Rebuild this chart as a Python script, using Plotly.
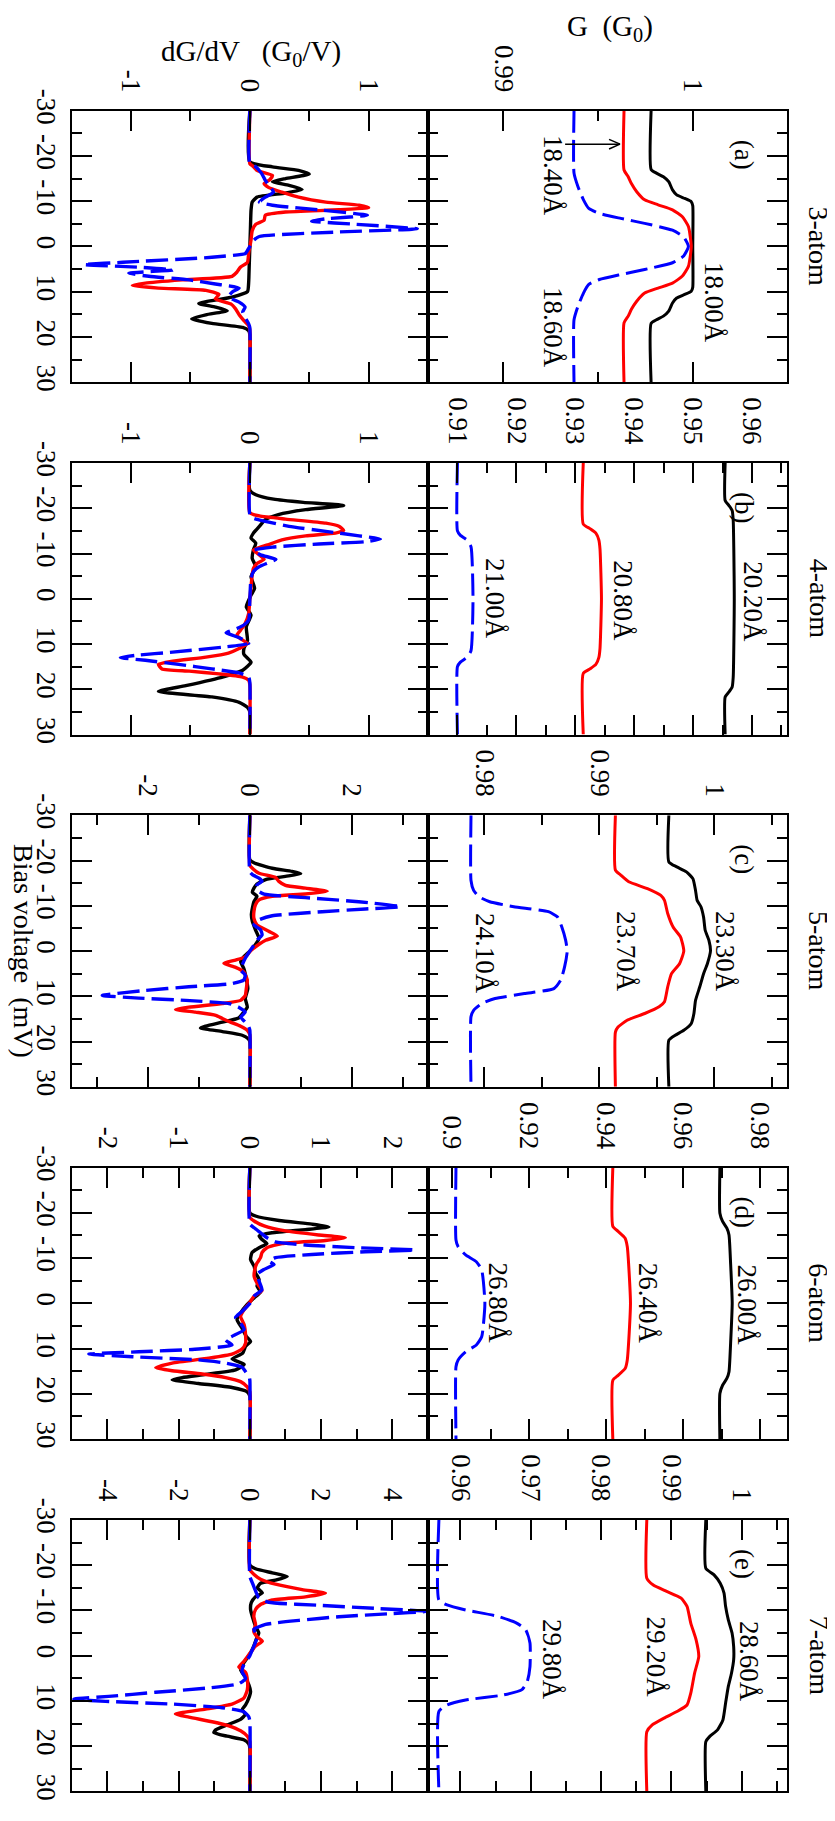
import plotly.graph_objects as go
import numpy as np

# ================= DATA =================
V_TICKS = [-30, -20, -10, 0, 10, 20, 30]
V_TICKTEXT = ["-30", "-20", "-10", "0", "10", "20", "30"]
ROW_TITLES = ["3-atom", "4-atom", "5-atom", "6-atom", "7-atom"]
PANEL_LETTERS = ["(a)", "(b)", "(c)", "(d)", "(e)"]

# ---------- Row 1 : 3-atom, G(V) ----------
V_G1_K = [-30, -17, -16.2, -15.4, -14.3, -12.5, -11.4, -10.6, -9.9, -9, 0, 9, 9.9, 10.6, 11.4, 12.5, 14.3, 15.4, 16.2, 17, 30]
G1_K = [0.9978, 0.9978, 0.99808, 0.99845, 0.99873, 0.99893, 0.99915, 0.99958, 0.99992, 1.0, 1.0, 1.0, 0.99992, 0.99958, 0.99915, 0.99893, 0.99873, 0.99845, 0.99808, 0.9978, 0.9978]
V_G1_R = [-30, -16.9, -15.4, -13.9, -12.1, -10.3, -9.2, -8.1, -6.6, -4.4, 0, 4.4, 6.6, 8.1, 9.2, 10.3, 12.1, 13.9, 15.4, 16.9, 30]
G1_R = [0.99637, 0.99637, 0.99659, 0.99676, 0.99704, 0.99746, 0.99817, 0.99893, 0.99944, 0.99977, 0.99992, 0.99977, 0.99944, 0.99893, 0.99817, 0.99746, 0.99704, 0.99676, 0.99659, 0.99637, 0.99637]
V_G1_B = [-30, -16.2, -13.2, -10.3, -8.4, -7.3, -6.2, -5.1, -3.6, -2.1, 0, 2.1, 3.6, 5.1, 6.2, 7.3, 8.4, 10.3, 13.2, 16.2, 30]
G1_B = [0.99373, 0.99373, 0.99394, 0.99423, 0.99451, 0.99507, 0.9962, 0.99746, 0.99893, 0.99952, 0.99977, 0.99952, 0.99893, 0.99746, 0.9962, 0.99507, 0.99451, 0.99423, 0.99394, 0.99373, 0.99373]

# ---------- Row 1 : 3-atom, dG/dV ----------
V_D1_K = [-30, -18.7, -17.6, -16.8, -16, -15, -14.3, -13.5, -12.6, -11.8, -10.9, -9.8, -8, -4, 0, 4, 8, 10, 11.2, 12.6, 13.4, 14.2, 15.1, 16, 17, 17.9, 18.6, 19.5, 30]
D1_K = [0, 0, 0.19, 0.41, 0.50, 0.30, 0.19, 0.33, 0.44, 0.30, 0.06, 0.02, 0.01, 0.005, 0, -0.005, -0.01, -0.02, -0.15, -0.43, -0.29, -0.19, -0.37, -0.49, -0.32, -0.06, -0.01, 0, 0]
V_D1_R = [-30, -18.3, -17.9, -16.8, -15.7, -14.8, -13.9, -13, -12, -10.9, -9.8, -9.1, -8.6, -8.1, -7.6, -6.9, -5.8, -4.9, -3.5, -1.5, 0, 1.5, 3.5, 4.6, 5.7, 6.6, 7.4, 8.1, 8.6, 9.2, 9.7, 10.6, 11.6, 12.7, 13.8, 15.1, 16.4, 17.5, 18.5, 30]
D1_R = [0, 0, 0.02, 0.06, 0.19, 0.17, 0.12, 0.16, 0.27, 0.41, 0.64, 0.92, 1.0, 0.75, 0.30, 0.13, 0.12, 0.05, 0.02, 0.01, 0, -0.01, -0.02, -0.08, -0.11, -0.15, -0.57, -0.88, -0.99, -0.77, -0.37, -0.26, -0.29, -0.16, -0.12, -0.09, -0.05, -0.01, 0, 0]
V_D1_B = [-30, -18.3, -17.6, -16.1, -14.6, -13.5, -12, -10.9, -9.8, -9.1, -8, -6.9, -6.1, -5.6, -4.9, -3.9, -3.2, -2.2, -1.3, 0, 1.3, 1.6, 2.4, 3.5, 4, 4.6, 5.2, 5.9, 6.6, 7.4, 8.3, 9.2, 10.1, 11.2, 12.3, 13.4, 14.5, 15.7, 17.1, 18, 30]
D1_B = [0, 0, 0.05, 0.10, 0.13, 0.16, 0.20, 0.13, 0.08, 0.19, 0.61, 0.99, 0.64, 0.52, 0.89, 1.41, 0.75, 0.08, 0.03, 0, -0.03, -0.04, -0.32, -1.07, -1.40, -0.93, -0.65, -1.02, -0.85, -0.51, -0.29, -0.09, -0.15, -0.18, -0.09, -0.04, -0.06, -0.04, -0.01, 0, 0]

# ---------- Row 2 : 4-atom, G(V) ----------
V_G2_K = [-30, -21.7, -20.6, -19.5, -17.3, 0, 17.3, 19.5, 20.6, 21.7, 30]
G2_K = [0.95545, 0.95545, 0.95609, 0.95664, 0.95682, 0.957, 0.95682, 0.95664, 0.95609, 0.95545, 0.95545]
V_G2_R = [-30, -16.5, -15.5, -14.5, -13, -11, 0, 11, 13, 14.5, 15.5, 16.5, 30]
G2_R = [0.93136, 0.93136, 0.9325, 0.9335, 0.9340, 0.9342, 0.93445, 0.9342, 0.9340, 0.9335, 0.9325, 0.93136, 0.93136]
V_G2_B = [-30, -15, -14, -13, -11.5, 0, 11.5, 13, 14, 15, 30]
G2_B = [0.9100, 0.9100, 0.9105, 0.9116, 0.9123, 0.91264, 0.9123, 0.9116, 0.9105, 0.9100, 0.9100]

# ---------- Row 2 : 4-atom, dG/dV ----------
V_D2_K = [-30, -24, -23, -22, -21.3, -20.6, -19.7, -18.6, -17.5, -16, -14.5, -13.4, -12.3, -10.8, -8.9, -7.1, -4.9, -2.3, -0.8, 1.8, 3.6, 6.2, 9.2, 11, 12.3, 14, 15.8, 17.3, 19.2, 20.5, 21.7, 22.9, 24, 25, 30]
D2_K = [0, 0, 0.05, 0.2, 0.45, 0.79, 0.47, 0.24, 0.13, 0.08, 0.03, 0.01, 0.05, 0.03, 0.02, 0.05, 0.01, 0.04, 0.01, -0.03, 0.01, -0.03, -0.02, -0.05, -0.05, 0.01, -0.06, -0.23, -0.54, -0.77, -0.32, -0.09, -0.02, 0, 0]
V_D2_R = [-30, -19, -18.3, -17.6, -16.7, -16, -15.1, -14.5, -13.9, -13, -11.9, -10.8, -9.7, -8.7, -7.8, -6.7, -5.3, -2.7, 0, 3.3, 5.5, 7, 8.1, 8.8, 9.9, 11, 12, 12.9, 13.8, 14.5, 15.5, 16, 16.6, 17.3, 18, 19, 30]
D2_R = [0, 0, 0.08, 0.30, 0.64, 0.75, 0.79, 0.72, 0.47, 0.27, 0.15, 0.03, 0.08, 0.12, 0.06, 0.03, 0.02, 0.01, 0, -0.01, -0.04, -0.08, -0.11, -0.08, -0.02, -0.09, -0.18, -0.37, -0.65, -0.77, -0.74, -0.51, -0.26, -0.06, -0.01, 0, 0]
V_D2_B = [-30, -18.6, -17.8, -17.1, -16, -14.9, -13.9, -13.2, -12.6, -12.1, -11.4, -10.7, -9.7, -8.7, -8, -7.1, -6, -4.5, 0, 4.7, 5.8, 6.6, 7.5, 8.3, 9.2, 9.9, 10.7, 11.8, 12.5, 13, 13.6, 14.5, 15.5, 16.4, 17.3, 18.5, 30]
D2_B = [0, 0, 0.03, 0.13, 0.33, 0.64, 0.92, 1.10, 0.97, 0.58, 0.19, 0.03, 0.09, 0.22, 0.16, 0.08, 0.03, 0.01, 0, -0.01, -0.05, -0.11, -0.20, -0.12, -0.04, -0.01, -0.23, -0.65, -0.96, -1.09, -0.88, -0.60, -0.32, -0.09, -0.01, 0, 0]

# ---------- Row 3 : 5-atom, G(V) ----------
V_G3_K = [-30, -19.7, -18.6, -17.5, -16, -13.4, -11.2, -9.8, -7.5, -4.6, -2.4, 0, 2.8, 5, 7.9, 10.9, 13.8, 16, 17.5, 18.6, 19.7, 30]
G3_K = [0.99605, 0.99605, 0.99674, 0.99758, 0.99814, 0.99837, 0.99851, 0.99884, 0.99907, 0.99921, 0.99953, 0.99967, 0.9994, 0.99907, 0.99874, 0.99837, 0.99823, 0.998, 0.99735, 0.9966, 0.99605, 0.99605]
V_G3_R = [-30, -17.9, -16.8, -15.3, -13.8, -12.3, -11.2, -8.3, -5.3, -3.1, 0, 2.8, 5, 7.9, 11.2, 12.3, 13.8, 15.3, 16.8, 17.9, 30]
G3_R = [0.9914, 0.9914, 0.99186, 0.99256, 0.99419, 0.99535, 0.99567, 0.99595, 0.99642, 0.99707, 0.99735, 0.99698, 0.99628, 0.99595, 0.99567, 0.9952, 0.99395, 0.99242, 0.99163, 0.9914, 0.9914]
V_G3_B = [-30, -15.6, -13.4, -12, -10.9, -9.8, -8.7, -7.5, -5.3, -2.4, 0, 3.5, 6.4, 8.3, 9.4, 10.5, 11.6, 13.1, 14.5, 30]
G3_B = [0.97884, 0.97884, 0.97907, 0.97953, 0.98047, 0.98256, 0.98558, 0.98637, 0.98674, 0.98707, 0.98721, 0.98698, 0.98665, 0.98605, 0.98349, 0.98093, 0.97977, 0.97907, 0.97884, 0.97884]

# ---------- Row 3 : 5-atom, dG/dV ----------
V_D3_K = [-30, -20.2, -19.5, -18.3, -17.6, -17.1, -16.5, -15.8, -14.8, -13.9, -13, -12.1, -10.9, -9.5, -8, -6.5, -4.7, -2.8, -1.3, 0, 1.3, 2.4, 3.8, 6.1, 8.3, 10.5, 12.4, 13.5, 14.8, 15.7, 16.6, 17, 17.8, 18.6, 19.4, 20, 30]
D3_K = [0, 0, 0.08, 0.44, 0.83, 1.0, 0.70, 0.31, 0.14, 0.08, 0.05, 0.14, 0.08, 0.05, 0.03, 0.05, 0.11, 0.18, 0.10, 0, -0.12, -0.18, -0.12, -0.07, -0.04, -0.09, -0.05, -0.12, -0.22, -0.54, -0.87, -0.97, -0.54, -0.15, -0.03, 0, 0]
V_D3_R = [-30, -19, -18.3, -17.2, -16.3, -15.4, -14.5, -13.9, -13.2, -12.6, -12.1, -11.3, -10.2, -8.7, -7.2, -5.8, -4.4, -3.3, -2.4, -1.5, 0, 1.3, 2, 2.7, 3.6, 4.6, 6.4, 8.3, 9.8, 10.9, 11.6, 12.4, 12.9, 13.5, 14.2, 14.9, 15.7, 16.6, 17.5, 18.5, 30]
D3_R = [0, 0, 0.05, 0.18, 0.50, 0.57, 0.70, 1.09, 1.52, 1.09, 0.44, 0.18, 0.11, 0.08, 0.08, 0.14, 0.37, 0.54, 0.31, 0.18, 0.01, -0.09, -0.28, -0.51, -0.28, -0.12, -0.05, -0.07, -0.09, -0.18, -0.54, -1.20, -1.46, -1.07, -0.67, -0.54, -0.38, -0.18, -0.05, 0, 0]
V_D3_B = [-30, -17.5, -16.9, -16.1, -15.4, -14.6, -13.5, -12.6, -11.8, -10.9, -9.8, -9.3, -8.7, -7.8, -6.9, -5.8, -4.7, -3.6, -2.4, -1.3, 0, 1.6, 3.1, 4.2, 5.3, 6.4, 7.2, 7.9, 8.7, 9.8, 10.4, 10.9, 11.6, 12.4, 13.5, 14.6, 15.7, 16.8, 17.5, 30]
D3_B = [0, 0, 0.05, 0.18, 0.24, 0.14, 0.14, 0.28, 1.09, 2.14, 2.96, 2.27, 1.42, 0.44, 0.18, 0.08, 0.21, 0.24, 0.14, 0.08, 0, -0.09, -0.15, -0.18, -0.09, -0.12, -0.35, -1.20, -2.05, -2.90, -2.18, -1.26, -0.41, -0.22, -0.09, -0.18, -0.09, -0.02, 0, 0]

# ---------- Row 4 : 6-atom, G(V) ----------
V_G4_K = [-30, -19.9, -18.1, -16.6, -15.1, -8.9, 0, 8.9, 15.1, 16.6, 18.1, 19.9, 30]
G4_K = [0.96954, 0.96954, 0.97024, 0.97135, 0.97191, 0.97232, 0.97274, 0.97232, 0.97191, 0.97135, 0.97024, 0.96954, 0.96954]
V_G4_R = [-30, -17, -15.9, -14.4, -12.5, 0, 12.5, 14.4, 15.9, 17, 30]
G4_R = [0.94172, 0.94172, 0.94311, 0.94492, 0.94548, 0.94631, 0.94548, 0.94492, 0.94311, 0.94172, 0.94172]
V_G4_B = [-30, -14, -12.5, -10.7, -9.2, -7.4, 0, 7.4, 9.2, 10.7, 12.5, 14, 30]
G4_B = [0.90097, 0.90097, 0.90153, 0.90348, 0.90626, 0.90765, 0.90848, 0.90765, 0.90626, 0.90348, 0.90153, 0.90097, 0.90097]

# ---------- Row 4 : 6-atom, dG/dV ----------
V_D4_K = [-30, -20, -19.3, -18.3, -17.5, -16.9, -16.3, -15.6, -14.9, -14.1, -13.2, -12.3, -11.2, -9.7, -8.2, -6.7, -5.3, -3.8, -2.5, -1.2, 0.3, 2.1, 3.6, 5.5, 7.3, 8.4, 9.5, 11, 12.3, 13.5, 14.7, 15.7, 16.4, 16.9, 17.7, 18.6, 19.5, 20.5, 30]
D4_K = [0, 0, 0.08, 0.41, 0.87, 1.11, 0.78, 0.31, 0.13, 0.17, 0.24, 0.13, 0.03, 0.01, 0.06, 0.08, 0.13, 0.10, 0.15, 0.06, -0.04, -0.13, -0.18, -0.11, -0.05, 0.01, -0.06, -0.10, -0.25, -0.08, -0.20, -0.62, -0.95, -1.09, -0.72, -0.25, -0.04, 0, 0]
V_D4_R = [-30, -19, -18.2, -17.1, -16, -15.1, -14.5, -13.9, -13.2, -12.3, -11.2, -10.1, -8.9, -7.5, -6, -4.5, -2.8, -1.6, 0, 1.4, 2.9, 4.7, 7, 8.8, 10.1, 11.2, 12.1, 13.2, 14.2, 14.9, 15.6, 16.4, 17.3, 18.4, 19.5, 30]
D4_R = [0, 0, 0.06, 0.20, 0.50, 0.97, 1.34, 1.06, 0.45, 0.24, 0.17, 0.15, 0.10, 0.07, 0.06, 0.10, 0.17, 0.06, -0.01, -0.08, -0.13, -0.08, -0.06, -0.06, -0.11, -0.25, -0.58, -1.09, -1.32, -1.09, -0.67, -0.34, -0.13, -0.04, 0, 0]
V_D4_B = [-30, -17.5, -16.7, -15.6, -14.5, -13.6, -12.9, -12.3, -11.8, -11.4, -10.8, -10.1, -9.3, -8.6, -7.5, -6.4, -4.9, -3, -1.6, 0, 1.8, 3.1, 4.4, 5.8, 7.3, 8.1, 9.2, 10.1, 10.7, 11.2, 11.8, 12.5, 13.2, 14.1, 15.1, 16.2, 17, 30]
D4_B = [0, 0, 0.06, 0.15, 0.24, 0.36, 0.78, 1.48, 2.32, 1.62, 0.87, 0.36, 0.27, 0.34, 0.20, 0.10, 0.13, 0.17, 0.06, 0, -0.11, -0.20, -0.13, -0.08, -0.25, -0.34, -0.25, -0.72, -1.56, -2.26, -1.65, -0.72, -0.34, -0.11, -0.06, -0.01, 0, 0]

# ---------- Row 5 : 7-atom, G(V) ----------
V_G5_K = [-30, -19.3, -17.9, -16, -13.8, -10.9, -7.9, -5, -2, 0.9, 3.9, 6.8, 10.5, 14.2, 16.4, 17.9, 19, 30]
G5_K = [0.9949, 0.9949, 0.99604, 0.99695, 0.99749, 0.99771, 0.9981, 0.99863, 0.99886, 0.99886, 0.99855, 0.9981, 0.99771, 0.99733, 0.99657, 0.99543, 0.9949, 0.9949]
V_G5_R = [-30, -17.1, -15.6, -14.2, -12.7, -10.9, -7.2, -3.5, 0.2, 3.9, 8.3, 10.9, 12.3, 13.8, 15.3, 16.8, 30]
G5_R = [0.98651, 0.98651, 0.98743, 0.98933, 0.99139, 0.99223, 0.99276, 0.99352, 0.9939, 0.9933, 0.99276, 0.99223, 0.99086, 0.98895, 0.98728, 0.98651, 0.98651]
V_G5_B = [-30, -12.3, -11.2, -10.1, -8.7, -7.2, -5.7, -2.8, 2.4, 5.7, 7.5, 8.7, 9.8, 10.9, 12.3, 30]
G5_B = [0.95695, 0.95695, 0.9581, 0.96076, 0.96533, 0.968, 0.9693, 0.9699, 0.9699, 0.96952, 0.96876, 0.9661, 0.96076, 0.9581, 0.95695, 0.95695]

# ---------- Row 5 : 7-atom, dG/dV ----------
V_D5_K = [-30, -20, -19.2, -18.3, -17.5, -16.7, -16, -15, -13.9, -13, -11.7, -10.2, -8.4, -6.5, -5, -3.6, -2.1, -0.2, 1.6, 3.1, 4.6, 6.4, 7.9, 9.4, 10.9, 12, 12.9, 14.1, 15.3, 16.4, 17, 17.8, 18.6, 19.5, 20.5, 30]
D5_K = [0, 0, 0.16, 0.63, 1.05, 0.72, 0.30, 0.21, 0.35, 0.16, 0.04, 0.02, 0.08, 0.16, 0.25, 0.18, 0.11, -0.01, -0.17, -0.26, -0.14, -0.03, 0.02, -0.03, -0.12, -0.22, -0.12, -0.26, -0.64, -0.96, -1.01, -0.64, -0.17, -0.03, 0, 0]
V_D5_R = [-30, -19, -18, -16.9, -15.8, -14.6, -13.8, -13, -12.3, -11.3, -10.2, -8.7, -6.9, -5.4, -4.1, -3.2, -2.1, -0.2, 1.3, 2.5, 3.7, 5.3, 7.5, 9.4, 10.7, 11.8, 12.9, 13.6, 14.6, 15.5, 16.6, 17.8, 19, 30]
D5_R = [0, 0, 0.11, 0.30, 0.72, 1.47, 2.12, 1.56, 0.63, 0.30, 0.16, 0.11, 0.16, 0.11, 0.21, 0.35, 0.16, -0.03, -0.17, -0.31, -0.12, -0.07, -0.07, -0.17, -0.50, -1.24, -2.09, -1.71, -1.06, -0.59, -0.26, -0.07, 0, 0]
V_D5_B = [-30, -17.5, -16.1, -14.3, -12.8, -11.8, -11.1, -10.4, -9.8, -9.3, -8.6, -7.8, -6.9, -5.8, -4.4, -3, -1.3, 0, 2, 3.5, 5, 6.2, 7.2, 8.1, 9, 9.6, 10.1, 10.7, 11.5, 12.4, 13.5, 14.5, 30]
D5_B = [0, 0, 0.07, 0.16, 0.25, 0.53, 2.03, 3.62, 4.98, 3.99, 2.50, 1.38, 0.44, 0.11, 0.21, 0.16, 0.07, 0, -0.17, -0.22, -0.12, -0.31, -1.24, -2.65, -3.96, -4.94, -4.05, -2.18, -0.78, -0.17, -0.03, 0, 0]

# ---------- axis settings per row ----------
D_RANGES = [[-1.5, 1.5], [-1.5, 1.5], [-3.5, 3.5], [-2.5, 2.5], [-5, 5]]
D_TICKVALS = [[-1, 0, 1], [-1, 0, 1], [-2, 0, 2], [-2, -1, 0, 1, 2], [-4, -2, 0, 2, 4]]
D_TICKTEXT = [["-1", "0", "1"], ["-1", "0", "1"], ["-2", "0", "2"], ["-2", "-1", "0", "1", "2"], ["-4", "-2", "0", "2", "4"]]
D_MINOR = [0.5, 0.5, 1.0, 0.5, 1.0]
G_RANGES = [[0.98602, 1.00496], [0.905, 0.9659], [0.9751, 1.0063], [0.8937, 0.9869], [0.9554, 1.0064]]
G_TICKVALS = [[0.99, 1.0], [0.91, 0.92, 0.93, 0.94, 0.95, 0.96], [0.98, 0.99, 1.0],
              [0.90, 0.92, 0.94, 0.96, 0.98], [0.96, 0.97, 0.98, 0.99, 1.0]]
G_TICKTEXT = [["0.99", "1"], ["0.91", "0.92", "0.93", "0.94", "0.95", "0.96"], ["0.98", "0.99", "1"],
              ["0.9", "0.92", "0.94", "0.96", "0.98"], ["0.96", "0.97", "0.98", "0.99", "1"]]
G_MINOR = [0.005, 0.005, 0.005, 0.01, 0.005]

# curve labels (text, G position, V position) per row: black, red, blue
LABELS = [
    [("18.00Å", 1.00113, 12.3), ("18.40Å", 0.99262, -15.8), ("18.60Å", 0.99262, 17.8)],
    [("20.20Å", 0.96014, 0.7), ("20.80Å", 0.93818, 0.4), ("21.00Å", 0.9165, 0.0)],
    [("23.30Å", 1.00093, 0.2), ("23.70Å", 0.99232, 0.2), ("24.10Å", 0.9800, 0.5)],
    [("26.00Å", 0.97647, 0.4), ("26.40Å", 0.95073, 0.0), ("26.80Å", 0.91182, 0.0)],
    [("28.60Å", 1.00112, 1.3), ("29.20Å", 0.9878, 0.4), ("29.80Å", 0.97294, 0.8)],
]
# arrow in panel (a): from G0 to G1 at bias ARROW_V
ARROW_V = -22.6
ARROW_G0 = 0.99326
ARROW_G1 = 0.99616

G_DATA = [
    [(V_G1_K, G1_K), (V_G1_R, G1_R), (V_G1_B, G1_B)],
    [(V_G2_K, G2_K), (V_G2_R, G2_R), (V_G2_B, G2_B)],
    [(V_G3_K, G3_K), (V_G3_R, G3_R), (V_G3_B, G3_B)],
    [(V_G4_K, G4_K), (V_G4_R, G4_R), (V_G4_B, G4_B)],
    [(V_G5_K, G5_K), (V_G5_R, G5_R), (V_G5_B, G5_B)],
]
D_DATA = [
    [(V_D1_K, D1_K), (V_D1_R, D1_R), (V_D1_B, D1_B)],
    [(V_D2_K, D2_K), (V_D2_R, D2_R), (V_D2_B, D2_B)],
    [(V_D3_K, D3_K), (V_D3_R, D3_R), (V_D3_B, D3_B)],
    [(V_D4_K, D4_K), (V_D4_R, D4_R), (V_D4_B, D4_B)],
    [(V_D5_K, D5_K), (V_D5_R, D5_R), (V_D5_B, D5_B)],
]

# ================= LAYOUT / STYLE =================
W, H = 835, 1821
OFF = 8  # the page body margin shifts the figure by 8 px
FONT = "Liberation Serif, Times New Roman, serif"
FS = 27
FS_TITLE = 29
X_LEFT, X_MID, X_RIGHT = 71.7, 428.0, 786.7
ROW_TOP0, ROW_STEP, ROW_H = 110.7, 352.3, 271.5
COLORS = ["#000000", "#ff0000", "#0000ff"]
DASHES = ["solid", "solid", "22px,7px"]
NB = "\u00a0"


def px_x(p):
    return (p - OFF) / W


def px_y(p):
    return 1 - (p - OFF) / H


def minor_vals(rng, step):
    n0 = int(np.ceil(rng[0] / step - 1e-9))
    n1 = int(np.floor(rng[1] / step + 1e-9))
    return [round(k * step, 6) for k in range(n0, n1 + 1)]


fig = go.Figure()
layout = dict(
    template="none",
    width=W, height=H, autosize=False, margin=dict(l=0, r=0, t=0, b=0, pad=0, autoexpand=False),
    paper_bgcolor="white", plot_bgcolor="white", showlegend=False,
    font=dict(family=FONT, size=FS, color="black"),
)
annotations = []
shapes = []
tfont = dict(family=FONT, size=FS, color="black")

for r in range(5):
    top = ROW_TOP0 + r * ROW_STEP
    bot = top + ROW_H
    ydom = [px_y(bot), px_y(top)]
    for j, kind in enumerate(["D", "G"]):
        k = 2 * r + j + 1
        xname = "xaxis" if k == 1 else f"xaxis{k}"
        yname = "yaxis" if k == 1 else f"yaxis{k}"
        xref = "x" if k == 1 else f"x{k}"
        yref = "y" if k == 1 else f"y{k}"
        if kind == "D":
            xdom = [px_x(X_LEFT), px_x(X_MID)]
            rng, tv, tt, mstep = D_RANGES[r], D_TICKVALS[r], D_TICKTEXT[r], D_MINOR[r]
            data = D_DATA[r]
            lw = 3.4
        else:
            xdom = [px_x(X_MID), px_x(X_RIGHT)]
            rng, tv, tt, mstep = G_RANGES[r], G_TICKVALS[r], G_TICKTEXT[r], G_MINOR[r]
            data = G_DATA[r]
            lw = 3.0
        layout[xname] = dict(
            domain=xdom, range=rng, anchor=yref, side="top", automargin=False,
            showline=True, linewidth=2, linecolor="black", mirror="allticks",
            ticks="inside", ticklen=20, tickwidth=2, tickcolor="black",
            tickmode="array", tickvals=tv, ticktext=tt, tickangle=90, ticklabelstandoff=7,
            tickfont=tfont, showgrid=False, zeroline=False,
            minor=dict(ticks="inside", ticklen=10, tickwidth=2, tickcolor="black",
                       tickmode="array", tickvals=minor_vals(rng, mstep), showgrid=False),
        )
        layout[yname] = dict(
            domain=ydom, range=[30, -30], anchor=xref, side="left", automargin=False,
            showline=True, linewidth=2, linecolor="black", mirror="allticks",
            ticks="inside", ticklen=20, tickwidth=2, tickcolor="black",
            tickmode="array", tickvals=V_TICKS, ticktext=V_TICKTEXT, tickangle=90,
            showticklabels=(kind == "D"), ticklabelstandoff=0,
            tickfont=tfont, showgrid=False, zeroline=False,
            minor=dict(ticks="inside", ticklen=10, tickwidth=2, tickcolor="black",
                       tickmode="array", tickvals=[-25, -15, -5, 5, 15, 25], showgrid=False),
        )
        for c, (vv, yy) in enumerate(data):
            fig.add_trace(go.Scatter(
                x=yy, y=vv, mode="lines", xaxis=xref, yaxis=yref,
                line=dict(color=COLORS[c], width=lw, dash=DASHES[c], shape="spline", smoothing=0.5),
                hoverinfo="skip",
            ))
        if kind == "G":
            for (txt, gx, vy) in LABELS[r]:
                annotations.append(dict(text=txt, x=gx, y=vy, xref=xref, yref=yref,
                                        showarrow=False, textangle=90,
                                        xanchor="center", yanchor="middle", font=tfont))
            if r == 0:
                shapes.append(dict(type="line", xref=xref, yref=yref, x0=ARROW_G0, x1=ARROW_G1,
                                   y0=ARROW_V, y1=ARROW_V, line=dict(color="black", width=1.5)))
                for s in (-1, 1):
                    shapes.append(dict(type="line", xref=xref, yref=yref,
                                       x0=ARROW_G1 - 0.00058, x1=ARROW_G1,
                                       y0=ARROW_V + s * 1.05, y1=ARROW_V,
                                       line=dict(color="black", width=1.5)))
    # row title and panel letter
    annotations.append(dict(text=ROW_TITLES[r], x=px_x(819), y=px_y((top + bot) / 2),
                            xref="paper", yref="paper", showarrow=False, textangle=90,
                            xanchor="center", yanchor="middle",
                            font=dict(family=FONT, size=28, color="black")))
    annotations.append(dict(text=PANEL_LETTERS[r], x=px_x(744), y=px_y(top + 44),
                            xref="paper", yref="paper", showarrow=False, textangle=90,
                            xanchor="center", yanchor="middle", font=tfont))

# axis titles
annotations.append(dict(text="dG/dV" + NB * 3 + "(G<sub>0</sub>/V)", x=px_x(251), y=px_y(53),
                        xref="paper", yref="paper", showarrow=False,
                        xanchor="center", yanchor="middle",
                        font=dict(family=FONT, size=FS_TITLE, color="black")))
annotations.append(dict(text="G" + NB * 2 + "(G<sub>0</sub>)", x=px_x(610), y=px_y(28),
                        xref="paper", yref="paper", showarrow=False,
                        xanchor="center", yanchor="middle",
                        font=dict(family=FONT, size=FS_TITLE, color="black")))
annotations.append(dict(text="Bias voltage" + NB * 2 + "(mV)", x=px_x(24),
                        y=px_y(ROW_TOP0 + 2 * ROW_STEP + ROW_H / 2),
                        xref="paper", yref="paper", showarrow=False, textangle=90,
                        xanchor="center", yanchor="middle",
                        font=dict(family=FONT, size=28, color="black")))

layout["annotations"] = annotations
layout["shapes"] = shapes
fig.update_layout(**layout)
fig.write_html("out.html", config={"displayModeBar": False})
